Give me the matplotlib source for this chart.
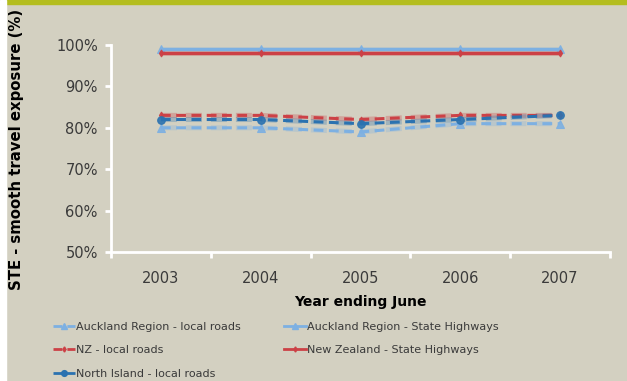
import numpy as np
import matplotlib
matplotlib.use("Agg")
import matplotlib.pyplot as plt
from matplotlib.patches import Rectangle
from matplotlib.lines import Line2D

years = ["2003", "2004", "2005", "2006", "2007"]
auck_local = [80, 80, 79, 81, 81]
auck_sh = [99, 99, 99, 99, 99]
nz_local = [83, 83, 82, 83, 83]
nz_sh = [98, 98, 98, 98, 98]
ni_local = [82, 82, 81, 82, 83]

bg = "#d3d0c1"
light_blue = "#7db0e2"
red = "#cc4146"
dark_blue = "#2b72b0"
txt = "#3a3a3a"

fig = plt.figure(figsize=(6.27, 3.81), dpi=100, facecolor=bg)
# top green band and white left strip
fig.patches.append(Rectangle((0, 1 - 4/381), 1, 4/381, transform=fig.transFigure,
                             color="#b4bd1f", zorder=0))
fig.patches.append(Rectangle((0, 0), 6/627, 1, transform=fig.transFigure,
                             color="white", zorder=0))

ax = fig.add_axes([111/627, 1 - 252/381, (610 - 111)/627, (252 - 45)/381])
ax.set_facecolor(bg)
x = np.arange(1, len(years) + 1)

series = [
    (auck_local, "Auckland Region - local roads", light_blue, "--", "^", 5.5),
    (auck_sh, "Auckland Region - State Highways", light_blue, "-", "^", 5.5),
    (nz_local, "NZ - local roads", red, "--", "d", 3.5),
    (nz_sh, "New Zealand - State Highways", red, "-", "d", 3.5),
    (ni_local, "North Island - local roads", dark_blue, "--", "o", 5.5),
]
handles = {}
for vals, lab, c, ls, mk, ms in series:
    dash = (3.2, 1.8) if ls == "--" else (None, None)
    # soft glow under the line
    ax.plot(x, vals, color=c, ls=ls, lw=3.6, alpha=0.3, dashes=dash,
            solid_capstyle="butt", clip_on=False)
    ax.plot(x, vals, color=c, ls=ls, lw=2.2, dashes=dash, clip_on=False)
    ax.plot(x, vals, ls="none", marker=mk, ms=ms, mfc=c, mec=c, mew=0.8,
            alpha=0.9, clip_on=False)
    handles[lab] = Line2D([], [], color=c, ls=ls, lw=2, dashes=dash,
                          marker=mk, ms=ms * 0.75, mfc=c, mec=c)

ax.set_xlim(0.5, len(years) + 0.5)
ax.set_ylim(50, 100)
ax.set_yticks(np.arange(50, 101, 10))
ax.set_yticklabels([f"{v}%" for v in range(50, 101, 10)])
ax.set_xticks(x)
ax.set_xticklabels(years)
ax.set_xticks(np.arange(0.5, len(years) + 1, 1), minor=True)
ax.tick_params(axis="x", which="major", length=0, pad=14, labelsize=10.5, labelcolor=txt)
ax.tick_params(axis="x", which="minor", length=4, width=2, color="white", direction="out")
ax.tick_params(axis="y", length=4, width=2, color="white", pad=5.5, labelsize=10.5,
               labelcolor=txt)

for s in ["top", "right"]:
    ax.spines[s].set_visible(False)
for s in ["left", "bottom"]:
    ax.spines[s].set_color("white")
    ax.spines[s].set_linewidth(2)

ax.set_xlabel("Year ending June", fontsize=10, fontweight="bold", color="black", labelpad=6)
fig.text(17/627, 0.5 + 0.5 * (1 - 300/381) - 0.5 * (10/381) + 0.015,
         "STE - smooth travel exposure (%)", rotation=90, fontsize=10.7,
         fontweight="bold", ha="center", va="center", color="black")

order1 = ["Auckland Region - local roads", "NZ - local roads", "North Island - local roads"]
order2 = ["Auckland Region - State Highways", "New Zealand - State Highways"]
leg_kw = dict(frameon=False, fontsize=8, handlelength=2.0, handletextpad=0.1,
              labelspacing=1.2, borderaxespad=0, borderpad=0, labelcolor=txt)
leg1 = fig.legend([handles[k] for k in order1], order1, loc="upper left",
                  bbox_to_anchor=(53/627, 1 - 322/381), **leg_kw)
leg2 = fig.legend([handles[k] for k in order2], order2, loc="upper left",
                  bbox_to_anchor=(284/627, 1 - 322/381), **leg_kw)

fig.savefig("out.png", dpi=100, facecolor=bg)
